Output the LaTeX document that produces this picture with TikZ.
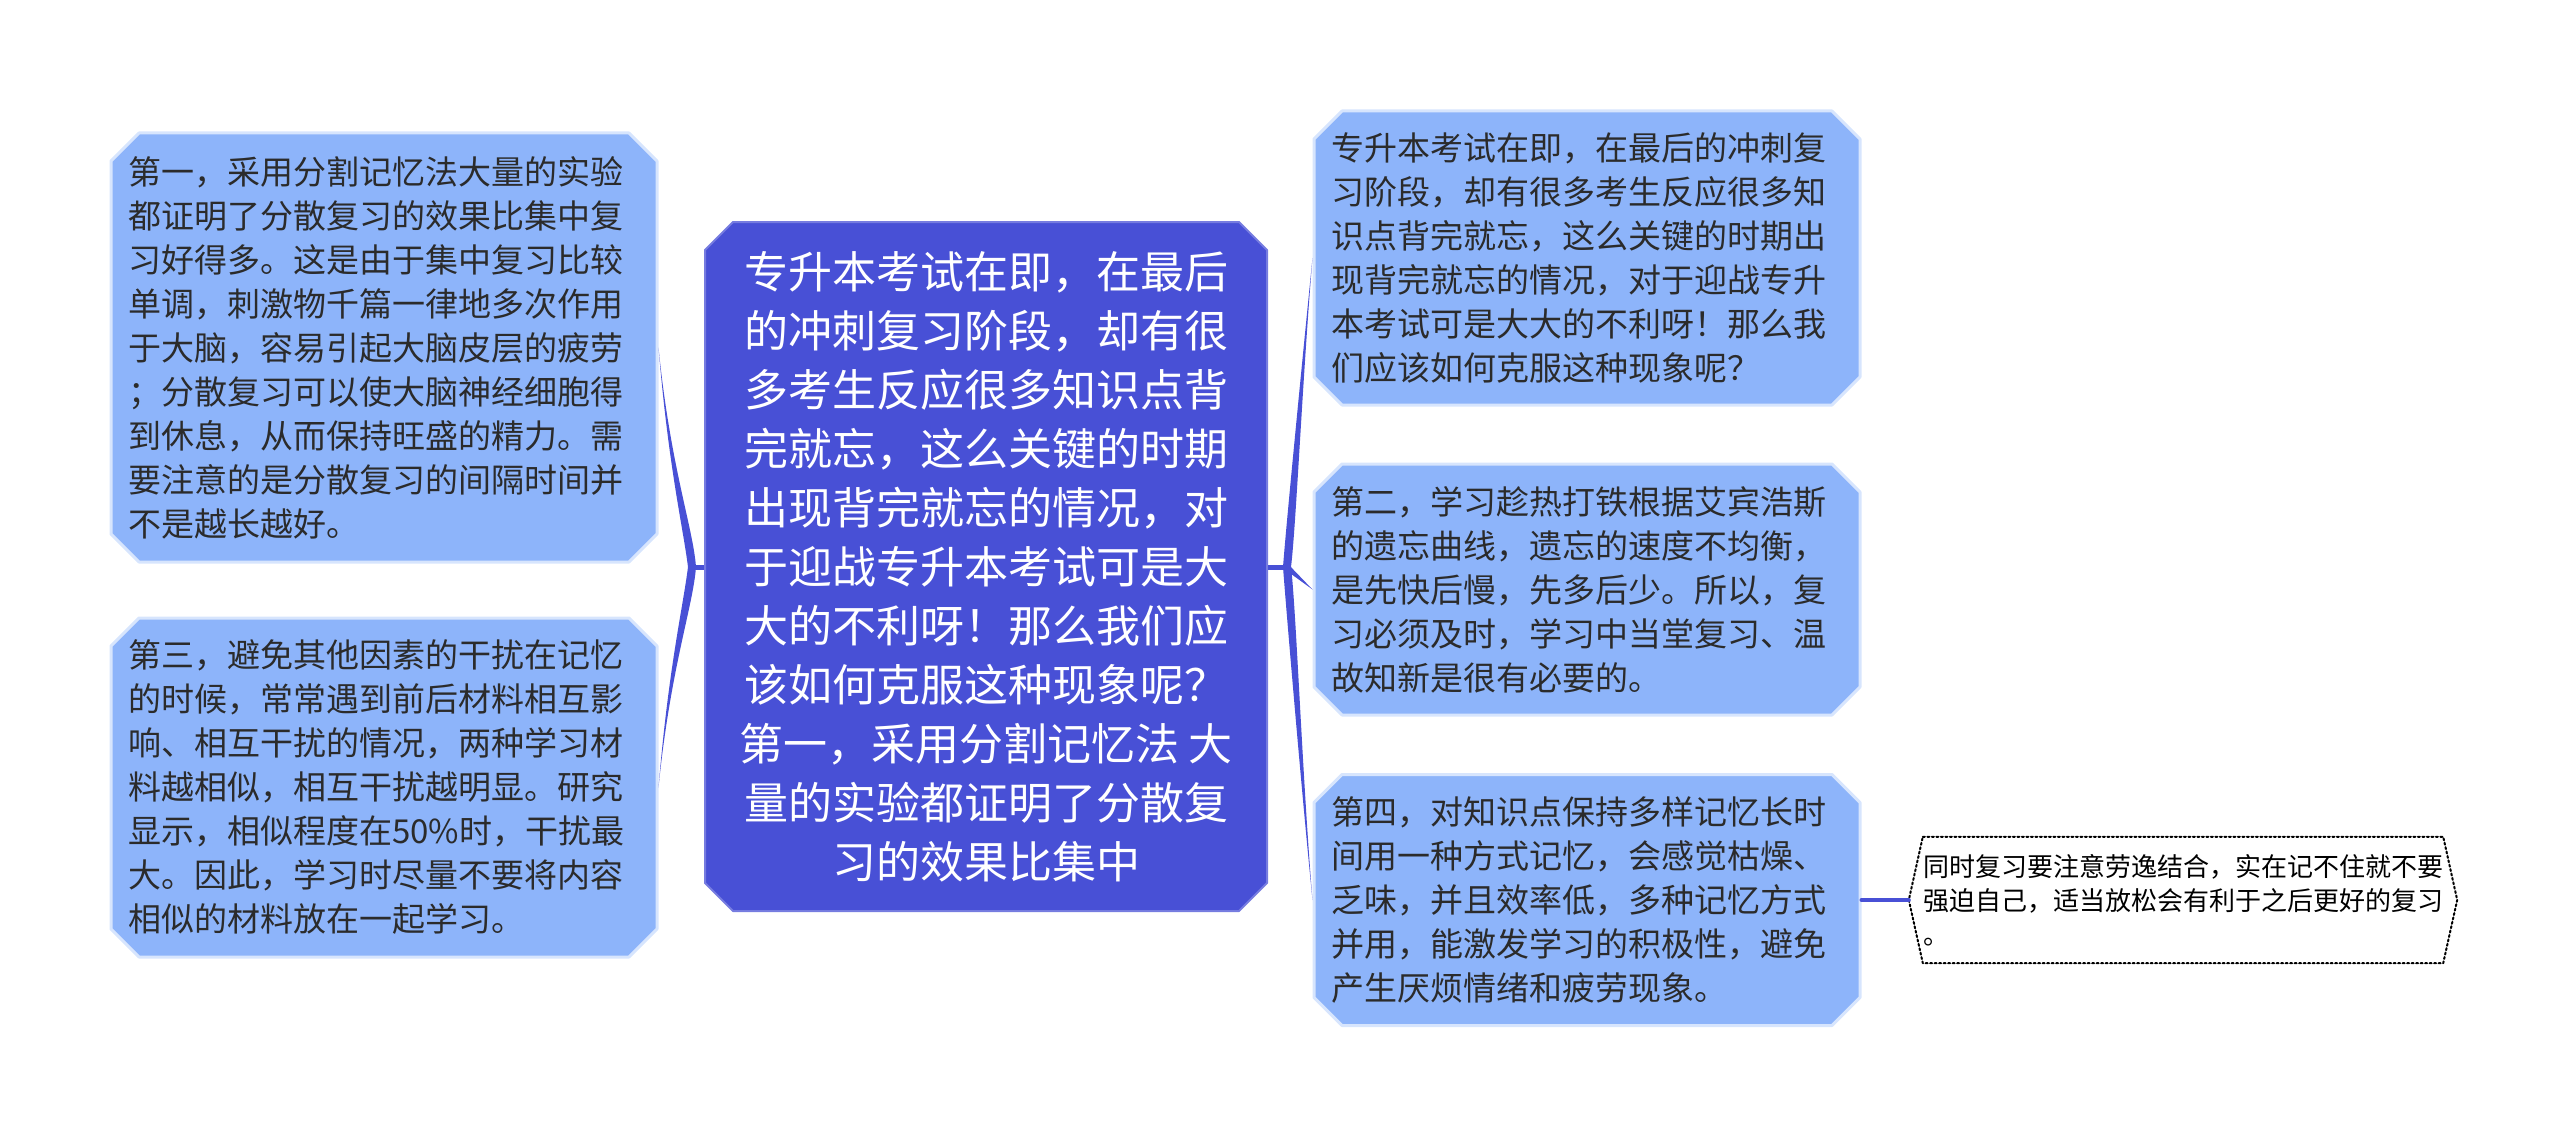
\documentclass[tikz,border=0pt]{standalone}
\usepackage{fontspec}
\newfontfamily\cjk{Noto Sans CJK SC}
\usetikzlibrary{shapes.misc}
\usetikzlibrary{calc}
\definecolor{hubblue}{HTML}{4850D6}
\definecolor{leafblue}{HTML}{8DB4FA}
\definecolor{leaftext}{HTML}{2B2B2B}

\begin{document}
\begin{tikzpicture}[x=1pt, y=-1pt, line cap=round, line join=round,
  hub/.style={chamfered rectangle, chamfered rectangle xsep=14pt, chamfered rectangle ysep=14pt,
    fill=hubblue, draw=hubblue!75!white, line width=2pt, text=white, align=center,
    font=\cjk\fontsize{44pt}{59pt}\selectfont, minimum width=562pt, minimum height=689pt, inner sep=0pt},
  leaf/.style={chamfered rectangle, chamfered rectangle xsep=14pt, chamfered rectangle ysep=14pt,
    fill=leafblue, draw=leafblue!35!white, line width=3pt, text=leaftext, align=left,
    font=\cjk\fontsize{33pt}{44pt}\selectfont, text width=512pt, inner xsep=3pt, inner ysep=0pt},
  note/.style={text=black, align=left, font=\cjk\fontsize{26pt}{34pt}\selectfont,
    text width=520pt, inner xsep=0pt, inner ysep=0pt, minimum height=126pt},
  noteline/.style={line width=2pt, dash pattern=on 2pt off 2.5pt},
  branch/.style={fill=hubblue},
  stub/.style={draw=hubblue, line width=5pt, line cap=butt}]
  \useasboundingbox (0,0) rectangle (2560,1137);
  %--- centre topic
    \node[hub] (hub) at (986, 566.5) {专升本考试在即，在最后\\
      的冲刺复习阶段，却有很\\
      多考生反应很多知识点背\\
      完就忘，这么关键的时期\\
      出现背完就忘的情况，对\\
      于迎战专升本考试可是大\\
      大的不利呀！那么我们应\\
      该如何克服这种现象呢？\\
      第一，采用分割记忆法 大\\
      量的实验都证明了分散复\\
      习的效果比集中};
  %--- left topics
    \node[leaf, minimum height=429pt] (first) at (384, 347.5) {第一，采用分割记忆法大量的实验\\
      都证明了分散复习的效果比集中复\\
      习好得多。这是由于集中复习比较\\
      单调，刺激物千篇一律地多次作用\\
      于大脑，容易引起大脑皮层的疲劳\\
      ；分散复习可以使大脑神经细胞得\\
      到休息，从而保持旺盛的精力。需\\
      要注意的是分散复习的间隔时间并\\
      不是越长越好。};
    \node[leaf, minimum height=339pt] (third) at (384, 787.5) {第三，避免其他因素的干扰在记忆\\
      的时候，常常遇到前后材料相互影\\
      响、相互干扰的情况，两种学习材\\
      料越相似，相互干扰越明显。研究\\
      显示，相似程度在50\%时，干扰最\\
      大。因此，学习时尽量不要将内容\\
      相似的材料放在一起学习。};
  %--- right topics
    \node[leaf, minimum height=294pt] (intro) at (1587, 258) {专升本考试在即，在最后的冲刺复\\
      习阶段，却有很多考生反应很多知\\
      识点背完就忘，这么关键的时期出\\
      现背完就忘的情况，对于迎战专升\\
      本考试可是大大的不利呀！那么我\\
      们应该如何克服这种现象呢？};
    \node[leaf, minimum height=251pt] (second) at (1587, 589.5) {第二，学习趁热打铁根据艾宾浩斯\\
      的遗忘曲线，遗忘的速度不均衡，\\
      是先快后慢，先多后少。所以，复\\
      习必须及时，学习中当堂复习、温\\
      故知新是很有必要的。};
    \node[leaf, minimum height=251pt] (fourth) at (1587, 900) {第四，对知识点保持多样记忆长时\\
      间用一种方式记忆，会感觉枯燥、\\
      乏味，并且效率低，多种记忆方式\\
      并用，能激发学习的积极性，避免\\
      产生厌烦情绪和疲劳现象。};
  %--- note on the fourth topic
    \node[note] (rest) at (2183, 900) {同时复习要注意劳逸结合，实在记不住就不要\\
      强迫自己，适当放松会有利于之后更好的复习\\
      。};
    \draw[noteline] (rest.north west) -- (rest.north east) -- ($(rest.east)+(14,0)$)
      -- (rest.south east) -- (rest.south west) -- ($(rest.west)+(-14,0)$) -- cycle;
  %--- junctions
    \coordinate (jl) at (692, 567);
    \coordinate (jr) at (1287, 567);
    \draw[stub] (hub.west |- jl) -- (jl);
    \draw[stub] (hub.east |- jr) -- (jr);
  %--- left branches
    \fill[branch] (first.east) .. controls +(12,120) and +(-3,-40) .. ($(jl)+(4,0)$)
      -- ($(jl)+(-4,0)$) .. controls +(-5,-40) and +(10,120) .. (first.east) -- cycle;
    \fill[branch] (third.east) .. controls +(12,-120) and +(-3,40) .. ($(jl)+(4,0)$)
      -- ($(jl)+(-4,0)$) .. controls +(-5,40) and +(10,-120) .. (third.east) -- cycle;
  %--- right branches
    \fill[branch] (intro.west) .. controls +(-12,120) and +(3,-40) .. ($(jr)+(-4,0)$)
      -- ($(jr)+(4,0)$) .. controls +(5,-40) and +(-10,120) .. (intro.west) -- cycle;
    \fill[branch] (second.west) -- ($(jr)+(0,-4)$) -- ($(jr)+(0,4)$) -- cycle;
    \fill[branch] (fourth.west) .. controls +(-12,-120) and +(3,40) .. ($(jr)+(-4,0)$)
      -- ($(jr)+(4,0)$) .. controls +(5,40) and +(-10,-120) .. (fourth.west) -- cycle;
  %--- note link
    \draw[draw=hubblue, line width=4pt] (fourth.east) -- ($(rest.west)+(-14,0)$);
\end{tikzpicture}
\end{document}
